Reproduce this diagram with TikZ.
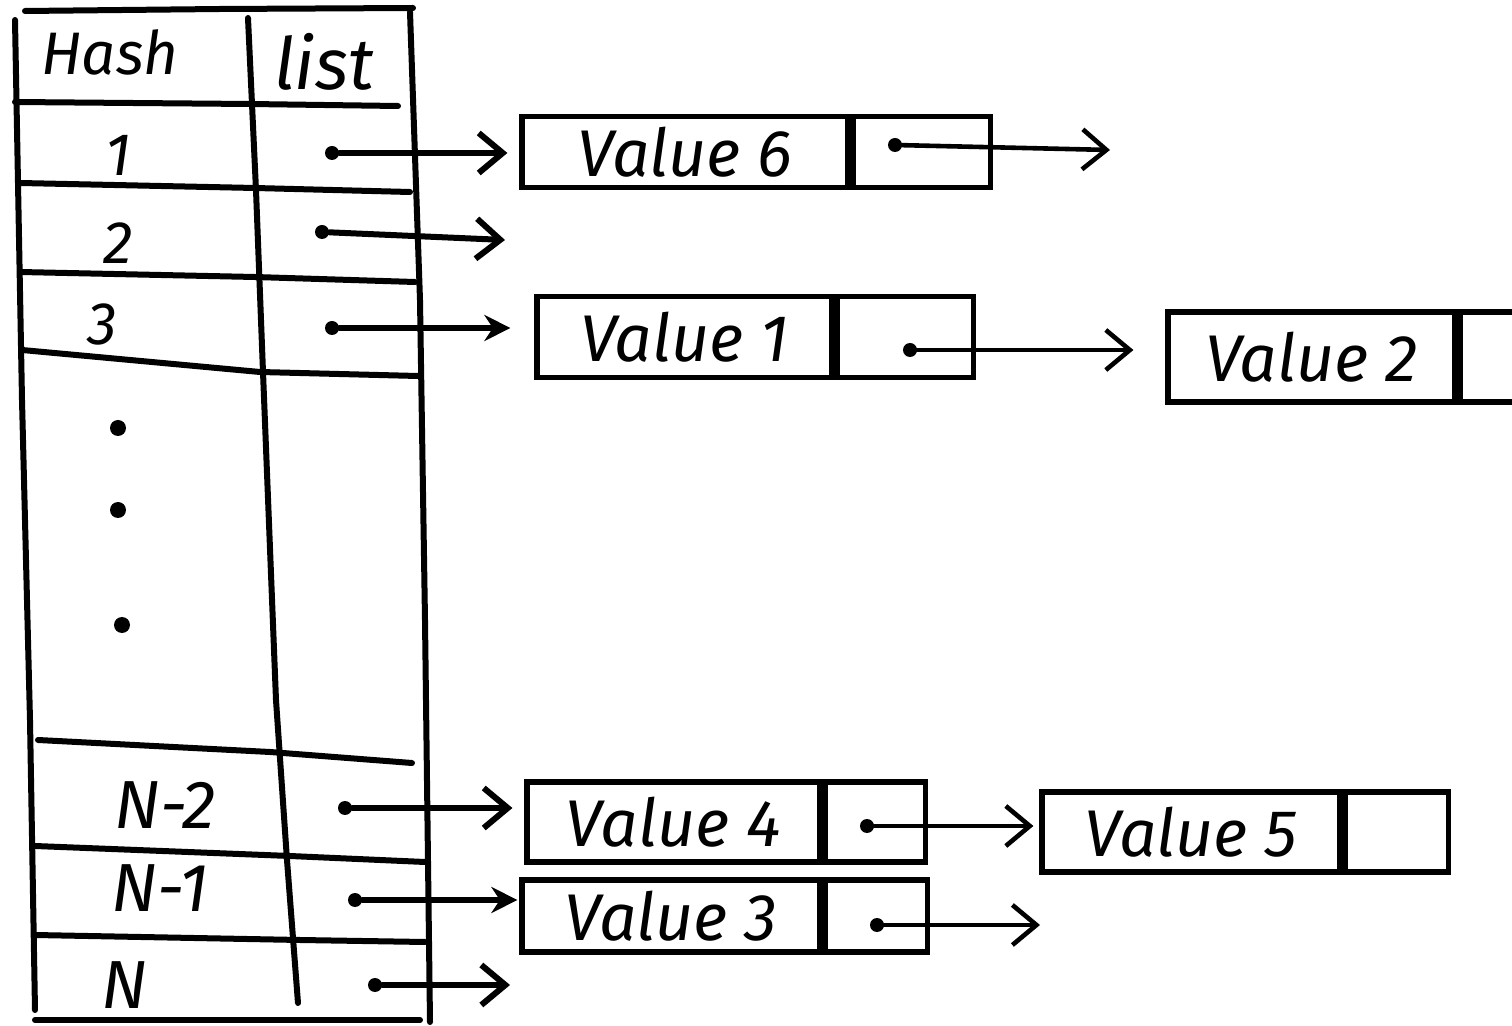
\documentclass[tikz,border=0pt]{standalone}
\usepackage{fontspec}
\setmainfont{Fira Sans}
\usetikzlibrary{arrows.meta}
\begin{document}
\begin{tikzpicture}[x=0.5pt,y=-0.5pt,
  ink/.style={line width=3pt, line cap=round, line join=round},
  thinink/.style={line width=2.3pt, line cap=round, line join=round},
  cellbox/.style={draw, line width=2.6pt, inner sep=0pt},
  vtext/.style={font=\fontsize{33}{36}\selectfont\itshape},
  hlabel/.style={font=\fontsize{30}{34}\selectfont\itshape, inner sep=0pt},
  ptrdot/.style={circle, fill, inner sep=0pt, minimum size=7pt},
  vdot/.style={circle, fill, inner sep=0pt, minimum size=8pt},
  openhead/.style={-{Straight Barb[length=12pt,width=20pt]}},
  fullhead/.style={-{Stealth[length=13pt,width=13pt]}},
]
\useasboundingbox (0,0) rectangle (1512,1026);
\clip (0,0) rectangle (1512,1026);

% ---- hash table frame ----
\draw[ink] (25,11) -- (220,9) -- (413,8);
\draw[ink] (15,20) -- (22,400) -- (30,720) -- (35,1010);
\draw[ink] (410,12) -- (420,300) -- (425,620) -- (430,1022);
\draw[ink] (248,18) -- (256,190) -- (263,372) -- (276,700) -- (287,860) -- (298,1003);
% row separators
\draw[ink] (15,102) -- (250,104) -- (398,106);
\draw[ink] (20,183) -- (255,188) -- (410,192);
\draw[ink] (20,272) -- (255,277) -- (415,282);
\draw[ink] (22,350) -- (260,372) -- (418,376);
\draw[ink] (38,740) -- (270,752) -- (412,763);
\draw[ink] (35,846) -- (290,856) -- (425,862);
\draw[ink] (35,935) -- (300,940) -- (425,942);
\draw[ink] (35,1020) -- (420,1020);

% ---- table labels ----
\node[hlabel] (thash) at (110,52) {Hash};
\node[hlabel, font=\fontsize{36}{40}\selectfont\itshape] (tlist) at (324,62) {list};
\node[hlabel] (k1) at (118,155) {1};
\node[hlabel] (k2) at (118,243) {2};
\node[hlabel] (k3) at (102,324) {3};
\node[vdot] (g1) at (118,428) {};
\node[vdot] (g2) at (118,510) {};
\node[vdot] (g3) at (122,625) {};
\node[hlabel, font=\fontsize{34}{38}\selectfont\itshape] (kn2) at (165,805) {N-2};
\node[hlabel, font=\fontsize{34}{38}\selectfont\itshape] (kn1) at (160,888) {N-1};
\node[hlabel, font=\fontsize{34}{38}\selectfont\itshape] (kn) at (125,985) {N};

% ---- list nodes ----
\node[cellbox, vtext, minimum width=163pt, minimum height=35.5pt] (v6) at (685,152) {Value 6};
\node[cellbox, minimum width=68.5pt, minimum height=35.5pt, anchor=west] (p6) at (v6.east) {};
\node[cellbox, vtext, minimum width=147.5pt, minimum height=40.5pt] (v1) at (684.5,337) {Value 1};
\node[cellbox, minimum width=68pt, minimum height=40.5pt, anchor=west] (p1) at (v1.east) {};
\node[cellbox, vtext, minimum width=143.5pt, minimum height=45pt] (v2) at (1311.5,357) {Value 2};
\node[cellbox, minimum width=42.5pt, minimum height=45pt, anchor=west] (p2) at (v2.east) {};
\node[cellbox, vtext, minimum width=146.5pt, minimum height=40pt] (v4) at (673.5,822) {Value 4};
\node[cellbox, minimum width=50pt, minimum height=40pt, anchor=west] (p4) at (v4.east) {};
\node[cellbox, vtext, minimum width=149pt, minimum height=40pt] (v5) at (1191,832) {Value 5};
\node[cellbox, minimum width=51.5pt, minimum height=40pt, anchor=west] (p5) at (v5.east) {};
\node[cellbox, vtext, minimum width=149pt, minimum height=36pt] (v3) at (671,916) {Value 3};
\node[cellbox, minimum width=51pt, minimum height=36pt, anchor=west] (p3) at (v3.east) {};

% ---- bucket pointers ----
\node[ptrdot] (h1) at (332,153) {};
\node[ptrdot] (h2) at (322,232) {};
\node[ptrdot] (h3) at (332,328) {};
\node[ptrdot] (h4) at (345,808) {};
\node[ptrdot] (h5) at (355,900) {};
\node[ptrdot] (h6) at (375,985) {};
\coordinate (e2) at (505,240);
\coordinate (e6) at (510,985);
\draw[ink, openhead, shorten >=6pt] (h1) -- (h1 -| v6.west);
\draw[ink, openhead] (h2) -- (e2);
\draw[ink, fullhead, shorten >=12pt] (h3) -- (h3 -| v1.west);
\draw[ink, openhead, shorten >=6pt] (h4) -- (h4 -| v4.west);
\draw[ink, fullhead, shorten >=1pt] (h5) -- (h5 -| v3.west);
\draw[ink, openhead] (h6) -- (e6);

% ---- next pointers ----
\node[ptrdot] (d6) at (895,145) {};
\node[ptrdot] (d1) at (910,350) {};
\node[ptrdot] (d4) at (867,826) {};
\node[ptrdot] (d3) at (877,925) {};
\coordinate (n6) at (1110,150);
\coordinate (n3) at (1040,925);
\draw[thinink, openhead] (d6) -- (n6);
\draw[thinink, openhead, shorten >=16pt] (d1) -- (d1 -| v2.west);
\draw[thinink, openhead, shorten >=3pt] (d4) -- (d4 -| v5.west);
\draw[thinink, openhead] (d3) -- (n3);
\end{tikzpicture}
\end{document}
